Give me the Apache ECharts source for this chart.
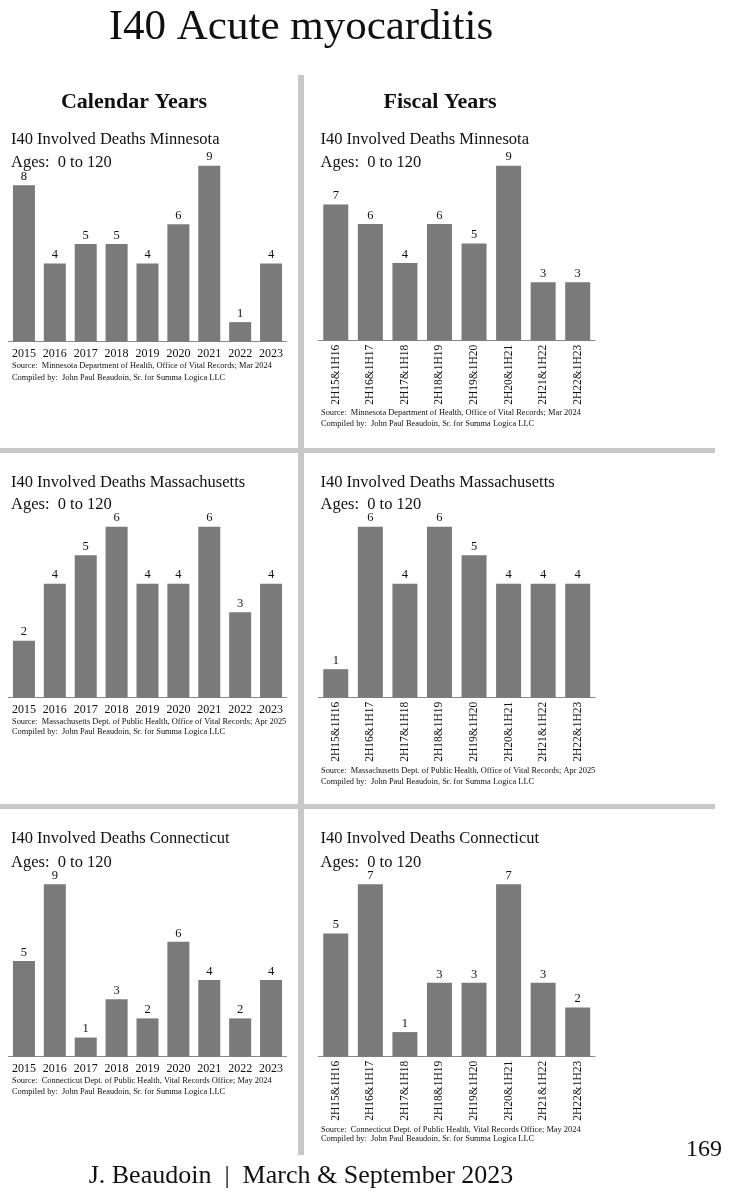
<!DOCTYPE html>
<html><head><meta charset="utf-8">
<script src="https://cdn.jsdelivr.net/npm/echarts@6/dist/echarts.min.js"></script>
<style>html,body{margin:0;padding:0;background:#fff}#c{width:730px;height:1200px}</style>
</head><body><div id="c"></div>
<script>
const calendarYears = ['2015','2016','2017','2018','2019','2020','2021','2022','2023'];
const fiscalYears = ['2H15&1H16','2H16&1H17','2H17&1H18','2H18&1H19','2H19&1H20','2H20&1H21','2H21&1H22','2H22&1H23'];
const mnCalendar = [8,4,5,5,4,6,9,1,4];
const mnFiscal = [7,6,4,6,5,9,3,3];
const maCalendar = [2,4,5,6,4,4,6,3,4];
const maFiscal = [1,6,4,6,5,4,4,4];
const ctCalendar = [5,9,1,3,2,6,4,2,4];
const ctFiscal = [5,7,1,3,3,7,3,2];

const F = 'Liberation Serif';
const BAR = '#7a7a7a';
const DIV = '#c8c8c8';

// panel layout: [cats, data, left, width, top, height, max, barWidth, rotate]
const panels = [
  [calendarYears, mnCalendar, 8.5, 278, 165.7, 176, 9, 22, 0],
  [fiscalYears,   mnFiscal,   318.5, 276.5, 165.7, 175, 9, 25, 90],
  [calendarYears, maCalendar, 8.5, 278, 526.7, 171, 6, 22, 0],
  [fiscalYears,   maFiscal,   318.5, 276.5, 526.7, 171, 6, 25, 90],
  [calendarYears, ctCalendar, 8.5, 278, 884.3, 172.4, 9, 22, 0],
  [fiscalYears,   ctFiscal,   318.5, 276.5, 884.3, 172.4, 7, 25, 90]
];

const grid = [], xAxis = [], yAxis = [], series = [];
panels.forEach((p, i) => {
  const [cats, data, left, width, top, height, max, bw, rot] = p;
  grid.push({left, top, width, height, containLabel:false});
  xAxis.push({type:'category', gridIndex:i, data:cats,
    axisLine:{lineStyle:{color:'#8a8a8a', width:1.2}}, axisTick:{show:false},
    axisLabel:{fontFamily:F, fontSize: rot ? 11.5 : 12, color:'#111', margin: rot ? 4 : 6, rotate:rot, interval:0}});
  yAxis.push({type:'value', gridIndex:i, min:0, max:max, show:false, splitLine:{show:false}});
  series.push({type:'bar', xAxisIndex:i, yAxisIndex:i, data:data, barWidth:bw,
    itemStyle:{color:BAR}, animation:false,
    label:{show:true, position:'top', distance:2, fontFamily:F, fontSize:12.5, color:'#111'}});
});

function txt(text, x, y, size, opts) {
  opts = opts || {};
  return {type:'text', x:x, y:y, silent:true, style:{text:text, fill:'#111',
    font:(opts.bold?'bold ':'') + size + 'px "' + F + '"',
    textAlign:opts.align||'left', textVerticalAlign:'middle'}};
}

const graphic = [
  {type:'rect', shape:{x:298, y:75, width:6, height:1080}, style:{fill:DIV}, silent:true},
  {type:'rect', shape:{x:0, y:448, width:715, height:5}, style:{fill:DIV}, silent:true},
  {type:'rect', shape:{x:0, y:804, width:715, height:5}, style:{fill:DIV}, silent:true},
  txt('I40 Acute myocarditis', 301, 28, 43, {align:'center'}),
  txt('Calendar Years', 134, 102, 22, {bold:true, align:'center'}),
  txt('Fiscal Years', 440, 102, 22, {bold:true, align:'center'}),
  txt('J. Beaudoin  |  March & September 2023', 301, 1176, 26, {align:'center'}),
  txt('169', 722, 1150, 24, {align:'right'})
];

const heads = [
  ['I40 Involved Deaths Minnesota', 11, 140, 163],
  ['I40 Involved Deaths Minnesota', 320.5, 140, 163],
  ['I40 Involved Deaths Massachusetts', 11, 483, 505],
  ['I40 Involved Deaths Massachusetts', 320.5, 483, 505],
  ['I40 Involved Deaths Connecticut', 11, 839, 863],
  ['I40 Involved Deaths Connecticut', 320.5, 839, 863]
];
heads.forEach(h => {
  graphic.push(txt(h[0], h[1], h[2], 16.5));
  graphic.push(txt('Ages:  0 to 120', h[1], h[3], 16.5));
});

const sources = [
  ['Source:  Minnesota Department of Health, Office of Vital Records; Mar 2024', 12, 366, 378],
  ['Source:  Minnesota Department of Health, Office of Vital Records; Mar 2024', 321, 413, 424],
  ['Source:  Massachusetts Dept. of Public Health, Office of Vital Records; Apr 2025', 12, 722, 732],
  ['Source:  Massachusetts Dept. of Public Health, Office of Vital Records; Apr 2025', 321, 771, 782],
  ['Source:  Connecticut Dept. of Public Health, Vital Records Office; May 2024', 12, 1081, 1092],
  ['Source:  Connecticut Dept. of Public Health, Vital Records Office; May 2024', 321, 1130, 1139]
];
sources.forEach(s => {
  graphic.push(txt(s[0], s[1], s[2], 8.4));
  graphic.push(txt('Compiled by:  John Paul Beaudoin, Sr. for Summa Logica LLC', s[1], s[3], 8.4));
});

const chart = echarts.init(document.getElementById('c'), null, {renderer:'canvas'});
chart.setOption({animation:false, backgroundColor:'#fff', grid, xAxis, yAxis, series, graphic});
</script></body></html>
